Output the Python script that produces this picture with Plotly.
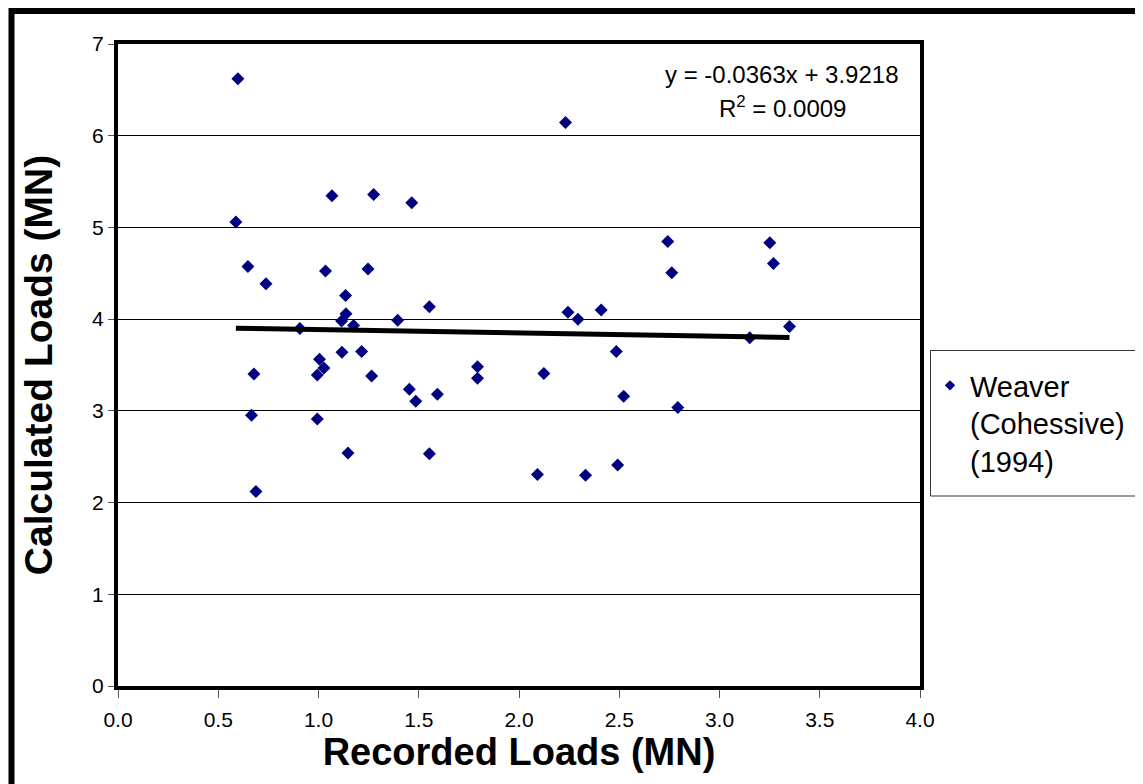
import plotly.graph_objects as go

recorded = [0.598, 0.588, 0.648, 0.738, 0.678, 0.666, 0.688, 0.907, 0.994, 0.994,
            1.005, 1.027, 1.035, 1.067, 1.115, 1.117, 1.135, 1.137, 1.147, 1.175,
            1.215, 1.247, 1.265, 1.275, 1.395, 1.453, 1.465, 1.485, 1.553, 1.553,
            1.593, 1.793, 1.793, 2.092, 2.124, 2.232, 2.244, 2.294, 2.332, 2.410,
            2.485, 2.492, 2.522, 2.742, 2.762, 2.792, 3.151, 3.251, 3.269, 3.349]
calculated = [6.62, 5.06, 4.575, 4.387, 3.402, 2.952, 2.121, 3.897, 3.391, 2.912,
              3.562, 3.467, 4.524, 5.345, 3.98, 3.638, 4.259, 4.06, 2.541, 3.93,
              3.646, 4.546, 3.38, 5.36, 3.987, 3.235, 5.27, 3.105, 4.136, 2.531,
              3.181, 3.48, 3.355, 2.306, 3.406, 6.144, 4.074, 3.998, 2.298, 4.10,
              3.646, 2.411, 3.159, 4.847, 4.506, 3.036, 3.798, 4.833, 4.608, 3.92]

slope = -0.0363
intercept = 3.9218
series_name = "Weaver<br>(Cohessive)<br>(1994)"
x_ticks = [0.0, 0.5, 1.0, 1.5, 2.0, 2.5, 3.0, 3.5, 4.0]
y_ticks = [0, 1, 2, 3, 4, 5, 6, 7]

FONT = "Liberation Sans, Arial, sans-serif"
NAVY = "#000080"

fig = go.Figure()
fig.add_trace(go.Scatter(
    x=recorded, y=calculated, mode="markers", name=series_name, showlegend=False,
    marker=dict(symbol="diamond", size=10, color=NAVY),
))
x_line = [min(recorded), max(recorded)]
y_line = [slope * v + intercept for v in x_line]
fig.add_trace(go.Scatter(
    x=x_line, y=y_line, mode="lines", showlegend=False,
    line=dict(color="black", width=5),
))
# legend entry (small symbol as in the reference)
fig.add_trace(go.Scatter(
    x=[None], y=[None], mode="markers", name=series_name, showlegend=True,
    marker=dict(symbol="diamond", size=8, color=NAVY),
))

# plot area pixel geometry (figure coordinates; page has an 8px body margin)
L, R, T, B = 110, 912, 36, 678
W, H = 1143, 784
pw, ph = R - L, B - T

def px(xp):
    return (xp - L) / pw

def py(yp):
    return (B - yp) / ph

fig.update_layout(
    width=W, height=H,
    margin=dict(l=L, r=W - R, t=T, b=H - B, pad=0),
    paper_bgcolor="white", plot_bgcolor="white",
    font=dict(family=FONT, color="black"),
    xaxis=dict(
        range=[0, 4], tickvals=x_ticks, tickformat=".1f",
        showgrid=False, zeroline=False,
        showline=True, linecolor="black", linewidth=4, mirror=True,
        ticks="outside", ticklen=8, tickwidth=1, tickcolor="#555555",
        tickfont=dict(size=21, family=FONT), ticklabelstandoff=4,
        title=dict(text="<b>Recorded Loads (MN)</b>", font=dict(size=38, family=FONT), standoff=0),
    ),
    yaxis=dict(
        range=[0, 7], tickvals=y_ticks,
        showgrid=True, gridcolor="black", gridwidth=1, zeroline=False,
        showline=True, linecolor="black", linewidth=4, mirror=True,
        ticks="outside", ticklen=6, tickwidth=1, tickcolor="#555555",
        tickfont=dict(size=21, family=FONT),
        title=dict(text="<b>Calculated Loads (MN)</b>", font=dict(size=39, family=FONT), standoff=28),
    ),
    legend=dict(
        x=px(922), y=py(352), xanchor="left", yanchor="top",
        borderwidth=0, bgcolor="rgba(0,0,0,0)",
        font=dict(size=29, family=FONT), valign="top",
        tracegroupgap=0,
    ),
    showlegend=True,
)

fig.add_annotation(
    x=px(774), y=py(66), xref="paper", yref="paper",
    text="y = -0.0363x + 3.9218", showarrow=False,
    xanchor="center", yanchor="middle", font=dict(size=24, family=FONT),
)
fig.add_annotation(
    x=px(774), y=py(99), xref="paper", yref="paper",
    text="R<sup>2</sup> = 0.0009", showarrow=False,
    xanchor="center", yanchor="middle", font=dict(size=24, family=FONT),
)

# legend box
fig.add_shape(
    type="rect", xref="paper", yref="paper",
    x0=px(922.5), y0=py(488), x1=px(1160), y1=py(342.5),
    line=dict(color="#333333", width=1), fillcolor="white", layer="below",
)

# outer chart frame
fig.add_shape(
    type="rect", xref="paper", yref="paper",
    x0=px(3.5), y0=py(830), x1=px(1180), y1=py(3),
    line=dict(color="black", width=6), layer="below",
)

fig.write_html("out.html")
